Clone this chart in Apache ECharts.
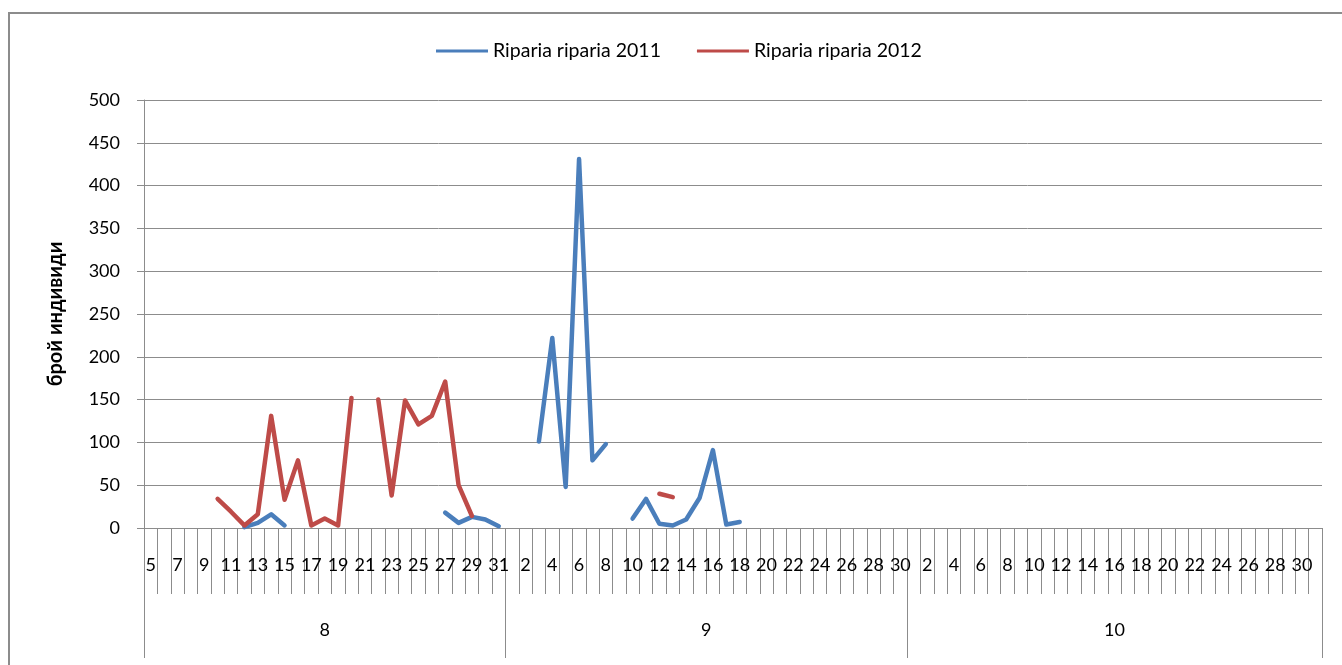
<!DOCTYPE html>
<html>
<head>
<meta charset="utf-8">
<script src="https://cdn.jsdelivr.net/npm/echarts@6/dist/echarts.min.js"></script>
<style>
  html, body { margin: 0; padding: 0; background: #fff; }
  #frame { position: absolute; left: 8px; top: 12px; width: 1400px; height: 720px;
           border: 2px solid #8c8c8c; box-sizing: border-box; }
  #chart { position: absolute; left: 0; top: 0; width: 1342px; height: 665px; }
</style>
</head>
<body>
<div id="frame"></div>
<div id="chart"></div>
<script>
// Days of each observed month (August from the 5th, then September and October)
const augDays = [5,6,7,8,9,10,11,12,13,14,15,16,17,18,19,20,21,22,23,24,25,26,27,28,29,30,31];
const sepDays = [1,2,3,4,5,6,7,8,9,10,11,12,13,14,15,16,17,18,19,20,21,22,23,24,25,26,27,28,29,30];
const octDays = [1,2,3,4,5,6,7,8,9,10,11,12,13,14,15,16,17,18,19,20,21,22,23,24,25,26,27,28,29,30,31];
const months = ['8', '9', '10'];

// Riparia riparia counts per day, 2011 (null = no count)
const aug2011 = [null,null,null,null,null,null,null,1,6,16,3,null,null,null,null,null,null,null,null,null,null,null,18,6,13,10,2];
const sep2011 = [null,null,101,222,48,431,79,98,null,11,34,5,3,10,35,91,4,7,null,null,null,null,null,null,null,null,null,null,null,null];
const oct2011 = [null,null,null,null,null,null,null,null,null,null,null,null,null,null,null,null,null,null,null,null,null,null,null,null,null,null,null,null,null,null,null];

// Riparia riparia counts per day, 2012
const aug2012 = [null,null,null,null,null,34,19,3,16,131,33,79,3,11,3,152,null,150,38,149,121,131,171,50,14,null,null];
const sep2012 = [null,null,null,null,null,null,null,null,null,null,null,40,36,null,null,null,null,null,null,null,null,null,null,null,null,null,null,null,null,null];
const oct2012 = [null,null,null,null,null,null,null,null,null,null,null,null,null,null,null,null,null,null,null,null,null,null,null,null,null,null,null,null,null,null,null];

const yTicks = { min: 0, max: 500, step: 50 };

const dayCats = [...augDays, ...sepDays, ...octDays].map(String);
const monthLens = [augDays.length, sepDays.length, octDays.length];
const monthStarts = [0, monthLens[0], monthLens[0] + monthLens[1]];
const monthMids = monthStarts.map((s, i) => s + monthLens[i] / 2);
const total = dayCats.length;

const FONT = 'Lato';
const GRID = '#8c8c8c';
const BLUE = '#4a7ebb';
const RED = '#be4b48';

const chart = echarts.init(document.getElementById('chart'), null, { renderer: 'canvas' });
chart.setOption({
  animation: false,
  backgroundColor: 'transparent',
  textStyle: { fontFamily: FONT, color: '#000' },
  color: [BLUE, RED],
  legend: {
    left: 431, top: 36,
    icon: 'rect', itemWidth: 52, itemHeight: 3, itemGap: 36,
    textStyle: { fontFamily: FONT, fontSize: 19.5, color: '#000' },
    data: ['Riparia riparia 2011', 'Riparia riparia 2012']
  },
  grid: { left: 144, right: 20, top: 100, bottom: 137, containLabel: false },
  xAxis: [
    {
      type: 'category', position: 'bottom', data: dayCats, boundaryGap: true,
      axisLine: { show: true, lineStyle: { color: GRID, width: 1 } },
      axisTick: { show: true, interval: 0, length: 66, lineStyle: { color: GRID } },
      axisLabel: { interval: 1, margin: 28, fontFamily: FONT, fontSize: 18, color: '#000', hideOverlap: false },
      splitLine: { show: false }
    },
    {
      type: 'category', position: 'bottom', data: dayCats, boundaryGap: true,
      axisLine: { show: false },
      axisTick: { show: true, length: 130, lineStyle: { color: GRID },
                  interval: (i) => monthStarts.includes(i) },
      axisLabel: { show: false },
      splitLine: { show: false }
    },
    {
      type: 'value', position: 'bottom', min: 0, max: total, interval: 0.5,
      axisLine: { show: false }, axisTick: { show: false }, splitLine: { show: false },
      axisLabel: {
        margin: 93, fontFamily: FONT, fontSize: 18, color: '#000',
        showMinLabel: true, showMaxLabel: true,
        formatter: (v) => { const k = monthMids.indexOf(v); return k >= 0 ? months[k] : ''; }
      }
    }
  ],
  yAxis: {
    type: 'value', min: yTicks.min, max: yTicks.max, interval: yTicks.step,
    name: 'брой индивиди', nameLocation: 'middle', nameGap: 78, nameRotate: 90,
    nameTextStyle: { fontFamily: FONT, fontSize: 20, fontWeight: 'bold', color: '#000' },
    axisLine: { show: true, lineStyle: { color: GRID } },
    axisTick: { show: true, length: 7, lineStyle: { color: GRID } },
    axisLabel: { margin: 24, fontFamily: FONT, fontSize: 18, color: '#000' },
    splitLine: { show: true, lineStyle: { color: GRID, width: 1 } }
  },
  series: [
    {
      name: 'Riparia riparia 2011', type: 'line', xAxisIndex: 0,
      data: [...aug2011, ...sep2011, ...oct2011],
      connectNulls: false, showSymbol: false, symbol: 'none',
      lineStyle: { color: BLUE, width: 4.5, join: 'round', cap: 'round' },
      itemStyle: { color: BLUE }
    },
    {
      name: 'Riparia riparia 2012', type: 'line', xAxisIndex: 0,
      data: [...aug2012, ...sep2012, ...oct2012],
      connectNulls: false, showSymbol: false, symbol: 'none',
      lineStyle: { color: RED, width: 4.5, join: 'round', cap: 'round' },
      itemStyle: { color: RED }
    }
  ]
});
</script>
</body>
</html>
